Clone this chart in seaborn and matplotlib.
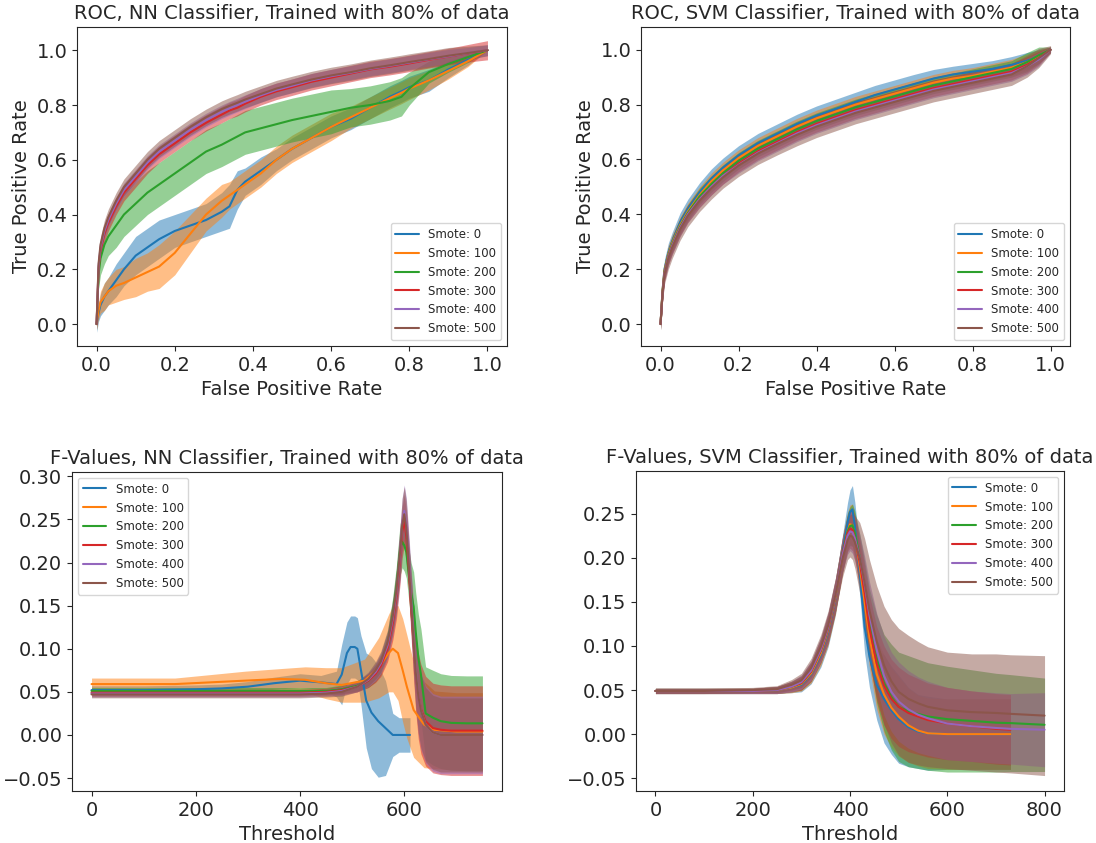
import matplotlib
matplotlib.use("Agg")
import matplotlib.pyplot as plt
import seaborn as sns

# ---- data ----
labels = ["Smote: 0", "Smote: 100", "Smote: 200", "Smote: 300", "Smote: 400", "Smote: 500"]

# ROC, NN classifier (mean TPR and +/- spread on a shared FPR grid)
roc_nn_fpr = [0, 0.005, 0.01, 0.02, 0.03, 0.05, 0.07, 0.1, 0.13, 0.16, 0.2, 0.24, 0.28, 0.32, 0.34, 0.36,
              0.38, 0.42, 0.46, 0.5, 0.55, 0.6, 0.65, 0.7, 0.75, 0.78, 0.8, 0.85, 0.9, 0.95, 1.0]
roc_nn_tpr = [
    [0, 0.04, 0.07, 0.1, 0.12, 0.16, 0.2, 0.25, 0.28, 0.31, 0.34, 0.36, 0.38, 0.41, 0.43, 0.49,
     0.52, 0.56, 0.6, 0.64, 0.68, 0.72, 0.75, 0.79, 0.83, 0.85, 0.865, 0.89, 0.93, 0.965, 1.0],
    [0, 0.05, 0.08, 0.1, 0.12, 0.14, 0.15, 0.17, 0.19, 0.21, 0.26, 0.33, 0.4, 0.45, 0.47, 0.49,
     0.51, 0.55, 0.6, 0.64, 0.68, 0.72, 0.755, 0.79, 0.825, 0.845, 0.86, 0.89, 0.925, 0.96, 1.0],
    [0, 0.18, 0.24, 0.29, 0.32, 0.36, 0.4, 0.44, 0.48, 0.51, 0.55, 0.59, 0.63, 0.655, 0.67, 0.685,
     0.7, 0.715, 0.73, 0.745, 0.76, 0.775, 0.79, 0.8, 0.815, 0.83, 0.86, 0.92, 0.95, 0.975, 1.0],
    [0, 0.2, 0.27, 0.33, 0.37, 0.43, 0.48, 0.53, 0.58, 0.62, 0.66, 0.7, 0.735, 0.765, 0.78, 0.79,
     0.805, 0.83, 0.85, 0.865, 0.885, 0.9, 0.915, 0.93, 0.94, 0.947, 0.952, 0.965, 0.977, 0.989, 1.0],
    [0, 0.21, 0.28, 0.34, 0.38, 0.44, 0.49, 0.54, 0.59, 0.63, 0.67, 0.71, 0.745, 0.775, 0.788, 0.8,
     0.812, 0.835, 0.855, 0.87, 0.89, 0.905, 0.918, 0.932, 0.943, 0.95, 0.955, 0.967, 0.978, 0.99, 1.0],
    [0, 0.22, 0.29, 0.35, 0.39, 0.45, 0.5, 0.55, 0.6, 0.64, 0.68, 0.72, 0.755, 0.785, 0.797, 0.808,
     0.82, 0.84, 0.86, 0.875, 0.893, 0.908, 0.92, 0.934, 0.945, 0.952, 0.957, 0.968, 0.98, 0.99, 1.0],
]
roc_nn_spread = [
    [0.03, 0.03, 0.04, 0.05, 0.05, 0.06, 0.06, 0.07, 0.07, 0.07, 0.06, 0.06, 0.06, 0.07, 0.08, 0.07,
     0.05, 0.05, 0.04, 0.04, 0.04, 0.04, 0.04, 0.04, 0.04, 0.04, 0.04, 0.04, 0.03, 0.02, 0.0],
    [0.02, 0.03, 0.04, 0.05, 0.05, 0.06, 0.06, 0.07, 0.07, 0.08, 0.08, 0.07, 0.06, 0.06, 0.05, 0.05,
     0.05, 0.05, 0.05, 0.05, 0.05, 0.05, 0.04, 0.04, 0.04, 0.04, 0.04, 0.035, 0.03, 0.02, 0.0],
    [0.02, 0.05, 0.06, 0.07, 0.07, 0.08, 0.08, 0.08, 0.08, 0.08, 0.08, 0.08, 0.08, 0.08, 0.08, 0.08,
     0.08, 0.08, 0.08, 0.08, 0.08, 0.08, 0.07, 0.07, 0.07, 0.07, 0.06, 0.04, 0.03, 0.02, 0.0],
    [0.02, 0.03, 0.03, 0.03, 0.03, 0.03, 0.03, 0.03, 0.03, 0.03, 0.03, 0.03, 0.03, 0.03, 0.03, 0.03,
     0.03, 0.03, 0.03, 0.03, 0.03, 0.03, 0.03, 0.03, 0.03, 0.03, 0.03, 0.03, 0.03, 0.032, 0.035],
    [0.02, 0.025, 0.025, 0.025, 0.025, 0.025, 0.025, 0.025, 0.025, 0.025, 0.025, 0.025, 0.025, 0.025,
     0.025, 0.025, 0.025, 0.025, 0.025, 0.025, 0.025, 0.025, 0.025, 0.025, 0.025, 0.025, 0.025, 0.025,
     0.025, 0.02, 0.02],
    [0.02, 0.03, 0.03, 0.03, 0.03, 0.03, 0.03, 0.03, 0.03, 0.03, 0.03, 0.03, 0.03, 0.03, 0.03, 0.03,
     0.03, 0.03, 0.03, 0.03, 0.03, 0.03, 0.03, 0.03, 0.03, 0.03, 0.03, 0.03, 0.03, 0.025, 0.02],
]

# ROC, SVM classifier
roc_svm_fpr = [0, 0.005, 0.01, 0.02, 0.03, 0.05, 0.07, 0.1, 0.13, 0.16, 0.2, 0.25, 0.3, 0.35, 0.4,
               0.45, 0.5, 0.55, 0.6, 0.65, 0.7, 0.75, 0.8, 0.85, 0.9, 0.94, 0.97, 1.0]
roc_svm_tpr = [
    [0, 0.12, 0.2, 0.26, 0.3, 0.37, 0.42, 0.48, 0.53, 0.57, 0.615, 0.66, 0.695, 0.73, 0.76,
     0.785, 0.81, 0.835, 0.855, 0.875, 0.895, 0.91, 0.92, 0.93, 0.945, 0.96, 0.975, 1.0],
    [0, 0.12, 0.195, 0.255, 0.295, 0.36, 0.41, 0.47, 0.52, 0.56, 0.605, 0.65, 0.685, 0.72, 0.75,
     0.775, 0.8, 0.82, 0.84, 0.86, 0.88, 0.895, 0.905, 0.92, 0.935, 0.955, 0.975, 1.0],
    [0, 0.115, 0.19, 0.25, 0.29, 0.355, 0.405, 0.465, 0.51, 0.55, 0.595, 0.64, 0.675, 0.71, 0.74,
     0.765, 0.79, 0.81, 0.83, 0.85, 0.87, 0.885, 0.9, 0.915, 0.93, 0.955, 0.98, 1.0],
    [0, 0.11, 0.185, 0.245, 0.285, 0.35, 0.4, 0.455, 0.5, 0.54, 0.585, 0.63, 0.665, 0.7, 0.73,
     0.755, 0.78, 0.8, 0.82, 0.84, 0.86, 0.875, 0.89, 0.905, 0.92, 0.945, 0.97, 1.0],
    [0, 0.11, 0.185, 0.245, 0.285, 0.35, 0.4, 0.455, 0.5, 0.54, 0.58, 0.625, 0.66, 0.695, 0.725,
     0.75, 0.775, 0.795, 0.815, 0.835, 0.855, 0.87, 0.885, 0.9, 0.915, 0.94, 0.965, 1.0],
    [0, 0.11, 0.18, 0.24, 0.28, 0.345, 0.395, 0.45, 0.495, 0.535, 0.578, 0.622, 0.657, 0.69, 0.72,
     0.745, 0.77, 0.79, 0.81, 0.83, 0.85, 0.865, 0.88, 0.895, 0.91, 0.94, 0.97, 1.0],
]
roc_svm_spread = [
    [0.02, 0.03, 0.035, 0.035, 0.035, 0.035, 0.035, 0.035, 0.035, 0.035, 0.035, 0.035, 0.035, 0.035,
     0.035, 0.035, 0.035, 0.035, 0.035, 0.035, 0.033, 0.03, 0.03, 0.03, 0.03, 0.03, 0.025, 0.01],
    [0.02, 0.03, 0.03, 0.03, 0.03, 0.03, 0.03, 0.03, 0.03, 0.03, 0.03, 0.03, 0.03, 0.03,
     0.03, 0.03, 0.03, 0.03, 0.03, 0.03, 0.03, 0.03, 0.03, 0.03, 0.03, 0.03, 0.025, 0.01],
    [0.02, 0.03, 0.03, 0.03, 0.03, 0.03, 0.03, 0.03, 0.03, 0.03, 0.03, 0.03, 0.03, 0.03,
     0.03, 0.03, 0.03, 0.03, 0.03, 0.03, 0.03, 0.03, 0.03, 0.03, 0.03, 0.035, 0.03, 0.01],
    [0.02, 0.03, 0.03, 0.03, 0.03, 0.03, 0.03, 0.03, 0.03, 0.03, 0.03, 0.03, 0.03, 0.03,
     0.03, 0.03, 0.03, 0.03, 0.03, 0.03, 0.03, 0.03, 0.03, 0.03, 0.03, 0.03, 0.025, 0.01],
    [0.02, 0.03, 0.03, 0.03, 0.03, 0.03, 0.03, 0.03, 0.03, 0.03, 0.03, 0.03, 0.03, 0.03,
     0.03, 0.03, 0.03, 0.03, 0.03, 0.03, 0.03, 0.03, 0.03, 0.03, 0.03, 0.03, 0.025, 0.01],
    [0.02, 0.03, 0.035, 0.04, 0.04, 0.04, 0.04, 0.04, 0.04, 0.04, 0.04, 0.04, 0.04, 0.04,
     0.04, 0.04, 0.04, 0.04, 0.04, 0.04, 0.04, 0.04, 0.04, 0.04, 0.04, 0.04, 0.035, 0.015],
]

# F-values, NN classifier (Smote 0 and 100 have their own threshold grids)
fv_nn_th0 = [0, 100, 200, 250, 300, 350, 400, 440, 470, 480, 490, 497, 505, 510, 517, 527, 537, 550,
             564, 578, 590, 600, 611]
fv_nn_th1 = [0, 100, 160, 228, 295, 363, 410, 450, 480, 524, 551, 570, 578, 588, 597, 605, 618, 638,
             658, 700, 750]
fv_nn_th = [0, 100, 200, 300, 400, 450, 480, 510, 531, 545, 555, 568, 578, 585, 592, 596, 600, 604,
            608, 613, 618, 622, 627, 632, 641, 655, 670, 690, 720, 750]
fv_nn_mean = [
    [0.052, 0.052, 0.053, 0.054, 0.056, 0.06, 0.063, 0.061, 0.059, 0.07, 0.095, 0.102, 0.102, 0.1,
     0.075, 0.04, 0.026, 0.016, 0.008, 0.0, 0.0, 0.0, 0.0],
    [0.059, 0.059, 0.059, 0.061, 0.063, 0.065, 0.064, 0.06, 0.058, 0.063, 0.078, 0.095, 0.1, 0.095,
     0.075, 0.056, 0.029, 0.012, 0.006, 0.004, 0.004],
    [0.051, 0.051, 0.051, 0.051, 0.051, 0.051, 0.053, 0.057, 0.063, 0.072, 0.082, 0.105, 0.14, 0.172,
     0.215, 0.224, 0.22, 0.212, 0.19, 0.165, 0.149, 0.12, 0.09, 0.07, 0.025, 0.02, 0.016, 0.014,
     0.0135, 0.0135],
    [0.049, 0.049, 0.049, 0.049, 0.049, 0.05, 0.052, 0.056, 0.063, 0.071, 0.08, 0.1, 0.13, 0.16,
     0.205, 0.235, 0.249, 0.23, 0.2, 0.149, 0.105, 0.072, 0.045, 0.03, 0.016, 0.008, 0.006, 0.005,
     0.005, 0.005],
    [0.048, 0.048, 0.048, 0.048, 0.048, 0.049, 0.051, 0.056, 0.064, 0.073, 0.083, 0.104, 0.135, 0.165,
     0.21, 0.245, 0.26, 0.245, 0.21, 0.16, 0.11, 0.075, 0.045, 0.028, 0.012, 0.003, 0.0, 0.0, 0.0, 0.0],
    [0.047, 0.047, 0.047, 0.047, 0.047, 0.048, 0.05, 0.056, 0.065, 0.075, 0.085, 0.107, 0.138, 0.168,
     0.212, 0.243, 0.256, 0.24, 0.205, 0.155, 0.108, 0.073, 0.045, 0.028, 0.012, 0.003, 0.0, 0.0, 0.0, 0.0],
]
fv_nn_spread = [
    [0.005, 0.005, 0.005, 0.005, 0.006, 0.007, 0.008, 0.008, 0.015, 0.035, 0.036, 0.036, 0.036, 0.036,
     0.04, 0.055, 0.065, 0.065, 0.055, 0.025, 0.02, 0.02, 0.02],
    [0.007, 0.007, 0.007, 0.009, 0.011, 0.012, 0.015, 0.018, 0.02, 0.025, 0.035, 0.045, 0.05, 0.055,
     0.06, 0.06, 0.055, 0.05, 0.045, 0.045, 0.045],
    [0.004, 0.004, 0.004, 0.004, 0.004, 0.004, 0.005, 0.006, 0.008, 0.01, 0.012, 0.015, 0.02, 0.025,
     0.03, 0.03, 0.03, 0.03, 0.03, 0.035, 0.04, 0.045, 0.05, 0.053, 0.054, 0.055, 0.055, 0.055, 0.055, 0.055],
    [0.004, 0.004, 0.004, 0.004, 0.004, 0.004, 0.005, 0.006, 0.008, 0.01, 0.012, 0.015, 0.02, 0.025,
     0.03, 0.03, 0.03, 0.03, 0.03, 0.035, 0.04, 0.045, 0.05, 0.052, 0.052, 0.052, 0.052, 0.052, 0.052, 0.052],
    [0.004, 0.004, 0.004, 0.004, 0.004, 0.004, 0.005, 0.006, 0.008, 0.01, 0.012, 0.015, 0.02, 0.025,
     0.03, 0.03, 0.03, 0.03, 0.03, 0.035, 0.04, 0.042, 0.044, 0.045, 0.045, 0.045, 0.045, 0.045, 0.045, 0.045],
    [0.004, 0.004, 0.004, 0.004, 0.004, 0.004, 0.005, 0.006, 0.008, 0.01, 0.012, 0.015, 0.02, 0.025,
     0.03, 0.031, 0.032, 0.031, 0.03, 0.035, 0.04, 0.042, 0.043, 0.043, 0.043, 0.043, 0.043, 0.043, 0.043, 0.043],
]

# F-values, SVM classifier (some series stop at 730)
fv_svm_th = [0, 100, 200, 250, 280, 300, 320, 340, 355, 370, 385, 395, 400, 405, 410, 420, 430, 440,
             455, 470, 485, 500, 520, 540, 560, 600, 650, 700, 730, 800]
fv_svm_mean = [
    [0.049, 0.049, 0.049, 0.05, 0.053, 0.056, 0.068, 0.09, 0.116, 0.154, 0.206, 0.24, 0.252, 0.255,
     0.236, 0.183, 0.122, 0.088, 0.056, 0.04, 0.027, 0.017, 0.008, 0.003, 0.001, 0.0, 0.0, 0.0, 0.0],
    [0.049, 0.049, 0.049, 0.05, 0.053, 0.057, 0.069, 0.092, 0.118, 0.155, 0.203, 0.23, 0.238, 0.237,
     0.225, 0.19, 0.15, 0.11, 0.068, 0.045, 0.03, 0.02, 0.01, 0.004, 0.001, 0.0, 0.0, 0.0, 0.0],
    [0.049, 0.049, 0.049, 0.05, 0.054, 0.058, 0.071, 0.095, 0.12, 0.157, 0.205, 0.23, 0.236, 0.237,
     0.228, 0.2, 0.165, 0.125, 0.085, 0.058, 0.042, 0.031, 0.026, 0.023, 0.02, 0.017, 0.015, 0.013,
     0.0125, 0.0106],
    [0.049, 0.049, 0.049, 0.05, 0.054, 0.058, 0.071, 0.095, 0.12, 0.157, 0.205, 0.228, 0.233, 0.232,
     0.222, 0.195, 0.16, 0.12, 0.08, 0.055, 0.04, 0.031, 0.024, 0.02, 0.016, 0.012, 0.009, 0.006, 0.005],
    [0.049, 0.049, 0.049, 0.05, 0.054, 0.059, 0.072, 0.096, 0.121, 0.158, 0.204, 0.225, 0.23, 0.229,
     0.222, 0.2, 0.17, 0.135, 0.095, 0.066, 0.048, 0.037, 0.028, 0.022, 0.018, 0.012, 0.009, 0.007,
     0.006, 0.005],
    [0.049, 0.049, 0.05, 0.051, 0.056, 0.061, 0.075, 0.099, 0.123, 0.158, 0.2, 0.22, 0.225, 0.224,
     0.218, 0.2, 0.172, 0.14, 0.105, 0.078, 0.06, 0.048, 0.04, 0.035, 0.031, 0.027, 0.025, 0.024,
     0.023, 0.021],
]
fv_svm_spread = [
    [0.003, 0.003, 0.003, 0.004, 0.006, 0.008, 0.011, 0.014, 0.017, 0.019, 0.021, 0.023, 0.025, 0.027,
     0.027, 0.025, 0.03, 0.035, 0.04, 0.05, 0.05, 0.05, 0.045, 0.042, 0.042, 0.04, 0.04, 0.04, 0.04],
    [0.003, 0.003, 0.003, 0.004, 0.006, 0.008, 0.011, 0.014, 0.017, 0.019, 0.02, 0.021, 0.022, 0.024,
     0.025, 0.025, 0.03, 0.035, 0.04, 0.045, 0.045, 0.045, 0.042, 0.04, 0.04, 0.04, 0.04, 0.04, 0.04],
    [0.003, 0.003, 0.003, 0.004, 0.006, 0.008, 0.011, 0.014, 0.017, 0.019, 0.02, 0.021, 0.022, 0.024,
     0.025, 0.027, 0.032, 0.04, 0.05, 0.055, 0.06, 0.062, 0.063, 0.062, 0.061, 0.06, 0.058, 0.056,
     0.055, 0.053],
    [0.003, 0.003, 0.003, 0.004, 0.006, 0.008, 0.011, 0.014, 0.017, 0.019, 0.02, 0.021, 0.022, 0.024,
     0.025, 0.027, 0.032, 0.038, 0.042, 0.045, 0.045, 0.045, 0.044, 0.043, 0.042, 0.041, 0.04, 0.04, 0.04],
    [0.003, 0.003, 0.003, 0.004, 0.006, 0.008, 0.011, 0.014, 0.017, 0.019, 0.02, 0.021, 0.022, 0.024,
     0.025, 0.027, 0.032, 0.038, 0.042, 0.045, 0.045, 0.045, 0.044, 0.043, 0.042, 0.041, 0.04, 0.04,
     0.04, 0.042],
    [0.003, 0.003, 0.003, 0.004, 0.006, 0.008, 0.011, 0.014, 0.017, 0.019, 0.021, 0.022, 0.024, 0.026,
     0.03, 0.04, 0.05, 0.058, 0.063, 0.067, 0.07, 0.072, 0.072, 0.07, 0.068, 0.066, 0.066, 0.067,
     0.067, 0.068],
]

colors = sns.color_palette("tab10", 6)
sns.set_style("ticks")
plt.rcParams["font.family"] = ["DejaVu Sans"]


def draw_panel(ax, xs, means, spreads, title, xlabel, ylabel, legend_loc):
    # bands first, lines on top
    for i, (m, s) in enumerate(zip(means, spreads)):
        x = xs[i][:len(m)]
        lo = [a - b for a, b in zip(m, s)]
        hi = [a + b for a, b in zip(m, s)]
        ax.fill_between(x, lo, hi, color=colors[i], alpha=0.5, linewidth=0)
    for i, m in enumerate(means):
        x = xs[i][:len(m)]
        sns.lineplot(x=x, y=m, ax=ax, color=colors[i], label=labels[i],
                     sort=False, estimator=None, linewidth=1.5)
    ax.set_title(title, fontsize=14)
    if xlabel:
        ax.set_xlabel(xlabel, fontsize=14)
    if ylabel:
        ax.set_ylabel(ylabel, fontsize=14)
    ax.tick_params(labelsize=14)
    ax.legend(loc=legend_loc, fontsize=8.5, frameon=True)


fig = plt.figure(figsize=(10.96, 8.43), dpi=100)
ax_tl = fig.add_axes([0.0703, 0.5896, 0.3923, 0.3784])
ax_tr = fig.add_axes([0.5849, 0.5896, 0.3914, 0.3784])
ax_bl = fig.add_axes([0.0657, 0.0617, 0.3923, 0.3784])
ax_br = fig.add_axes([0.5803, 0.0617, 0.3905, 0.3796])

draw_panel(ax_tl, [roc_nn_fpr] * 6, roc_nn_tpr, roc_nn_spread,
           "ROC, NN Classifier, Trained with 80% of data",
           "False Positive Rate", "True Positive Rate", "lower right")
ax_tl.set_xlim(-0.05, 1.05)
ax_tl.set_ylim(-0.08, 1.085)

draw_panel(ax_tr, [roc_svm_fpr] * 6, roc_svm_tpr, roc_svm_spread,
           "ROC, SVM Classifier, Trained with 80% of data",
           "False Positive Rate", "True Positive Rate", "lower right")
ax_tr.set_xlim(-0.05, 1.05)
ax_tr.set_ylim(-0.08, 1.083)

draw_panel(ax_bl, [fv_nn_th0, fv_nn_th1, fv_nn_th, fv_nn_th, fv_nn_th, fv_nn_th],
           fv_nn_mean, fv_nn_spread,
           "F-Values, NN Classifier, Trained with 80% of data",
           "Threshold", None, "upper left")
ax_bl.set_xlim(-37.5, 787.5)
ax_bl.set_ylim(-0.065, 0.305)

draw_panel(ax_br, [fv_svm_th] * 6, fv_svm_mean, fv_svm_spread,
           "F-Values, SVM Classifier, Trained with 80% of data",
           "Threshold", None, "upper right")
ax_br.set_xlim(-40, 840)
ax_br.set_ylim(-0.0645, 0.2985)

fig.savefig("out.png", dpi=100)
